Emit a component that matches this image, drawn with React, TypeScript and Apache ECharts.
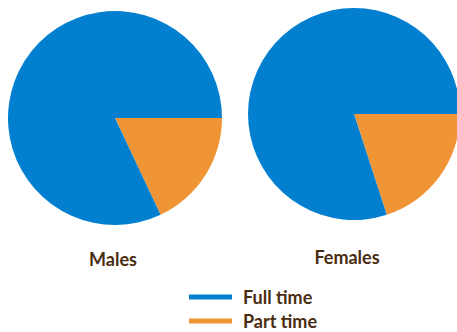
import React, { useEffect, useRef } from "react";
import * as echarts from "echarts";

const categories = ["Full time", "Part time"];
const groups = ["Males", "Females"];
const malesValues = [82, 18];
const femalesValues = [80, 20];
const colors = ["#0280CF", "#F09535"];

export default function App() {
  const ref = useRef<HTMLDivElement>(null);
  useEffect(() => {
    if (!ref.current) return;
    const chart = echarts.init(ref.current, undefined, { renderer: "svg" });
    const mk = (vals: number[]) =>
      // part time first so it starts at 3 o'clock going clockwise
      [1, 0].map((i) => ({
        name: categories[i],
        value: vals[i],
        itemStyle: { color: colors[i] },
      }));
    const textColor = "#4A2C10";
    const font = "Lato, 'Open Sans', sans-serif";
    const titleStyle = { color: textColor, fontSize: 18, fontWeight: "bold", fontFamily: font, lineHeight: 20 };
    const legendBase = (name: string, top: number) => ({
      data: [name],
      orient: "vertical",
      left: 189,
      top,
      padding: 0,
      icon: "rect",
      itemWidth: 43,
      itemHeight: 5,
      selectedMode: false,
      textStyle: {
        color: textColor,
        fontSize: 18,
        fontWeight: "bold",
        fontFamily: font,
        lineHeight: 17,
        padding: [0, 0, 0, 6],
      },
    });
    chart.setOption({
      animation: false,
      title: [
        { text: groups[0], left: 113, top: 249, padding: 0, textAlign: "center", textStyle: titleStyle },
        { text: groups[1], left: 347, top: 247, padding: 0, textAlign: "center", textStyle: titleStyle },
      ],
      legend: [legendBase(categories[0], 288), legendBase(categories[1], 312)],
      series: [
        {
          type: "pie",
          center: [115, 118],
          radius: 107,
          startAngle: 0,
          clockwise: true,
          label: { show: false },
          labelLine: { show: false },
          emphasis: { disabled: true },
          itemStyle: { borderWidth: 0 },
          data: mk(malesValues),
        },
        {
          type: "pie",
          center: [354, 114],
          radius: 106,
          startAngle: 0,
          clockwise: true,
          label: { show: false },
          labelLine: { show: false },
          emphasis: { disabled: true },
          itemStyle: { borderWidth: 0 },
          data: mk(femalesValues),
        },
      ],
    });
    return () => chart.dispose();
  }, []);
  return (
    <div
      ref={ref}
      style={{ position: "fixed", left: 0, top: 0, width: 457, height: 332, background: "#fff" }}
    />
  );
}
